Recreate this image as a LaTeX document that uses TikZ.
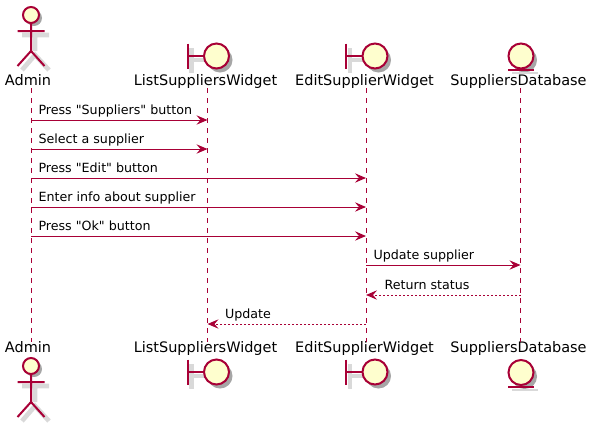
\documentclass[tikz,border=0pt]{standalone}
\usepackage{fontspec}
\newfontfamily\umlfont{DejaVu Sans}
\usetikzlibrary{arrows.meta}
\definecolor{uml_line}{HTML}{A80036}
\definecolor{uml_fill}{HTML}{FEFECE}
\tikzset{
  figure/.style={draw=uml_line, line width=1.5pt},
  softshade/.style={draw=black!15, line width=3.5pt},
  partname/.style={font=\umlfont\fontsize{10.85}{12}\selectfont, anchor=base, inner sep=0pt, text height=8pt, text depth=2.25pt},
  lifeline/.style={draw=uml_line, line width=0.75pt, dash pattern=on 3.75pt off 3.75pt},
  msg/.style={draw=uml_line, line width=0.75pt, -{Stealth[length=8.25pt, width=7pt, inset=3pt, uml_line]}},
  reply/.style={msg, dash pattern=on 1.5pt off 1.5pt},
  msgtext/.style={font=\umlfont\fontsize{9.5}{12}\selectfont, anchor=base west, inner sep=0pt, yshift=4.1pt, xshift=5.25pt}
}
% #1 = x of the lifeline, #2 = y of the head centre
\newcommand{\drawactor}[2]{
  \draw[softshade] (#1+4,#2+20) -- (#1+4,#2+36) (#1-9,#2+20) -- (#1+18,#2+20) (#1-9,#2+55) -- (#1+4,#2+40) -- (#1+18,#2+55);
  \fill[black!35] (#1+3,#2+3) circle (8);
  \draw[figure] (#1,#2+8) -- (#1,#2+36) (#1-13.5,#2+16) -- (#1+13.5,#2+16) (#1-13.5,#2+51) -- (#1,#2+36) -- (#1+13.5,#2+51);
  \draw[figure, fill=uml_fill] (#1,#2) circle (8);
}
% #1 = x of the bar, #2 = y of the circle centre
\newcommand{\drawboundary}[2]{
  \draw[softshade] (#1+4,#2-8) -- (#1+4,#2+17) (#1+4,#2+4) -- (#1+18,#2+4);
  \fill[black!35] (#1+32.5,#2+4) circle (12.5);
  \draw[figure] (#1,#2-12.5) -- (#1,#2+12.5) (#1,#2) -- (#1+16,#2);
  \draw[figure, fill=uml_fill] (#1+29,#2) circle (12.5);
}
% #1 = x of the circle centre, #2 = y of the circle centre
\newcommand{\drawentity}[2]{
  \fill[black!35] (#1+3.5,#2+4) circle (12.5);
  \draw[softshade, line width=1.5pt] (#1-9,#2+17) -- (#1+17,#2+17);
  \draw[figure, fill=uml_fill] (#1,#2) circle (12.5);
  \draw[figure] (#1-13,#2+14) -- (#1+13,#2+14);
}

\begin{document}
\begin{tikzpicture}[x=0.75pt, y=-0.75pt]
  \useasboundingbox (0,0) rectangle (591,422);

  % Figures at the top and at the bottom
  \drawactor{31}{15}
  \drawboundary{187.5}{56}
  \drawboundary{346}{56}
  \drawentity{521}{56}
  \drawactor{31}{366}
  \drawboundary{187.5}{372}
  \drawboundary{346}{372}
  \drawentity{521}{372.5}

  % Names of the participants
  \node[partname] (admintop) at (28,85) {Admin};
  \node[partname] (listtop) at (205.5,85) {ListSuppliersWidget};
  \node[partname] (edittop) at (364.5,85) {EditSupplierWidget};
  \node[partname] (dbtop) at (518.5,85) {SuppliersDatabase};
  \node[partname] (adminbot) at (28,352.5) {Admin};
  \node[partname] (listbot) at (205.5,352.5) {ListSuppliersWidget};
  \node[partname] (editbot) at (364.5,352.5) {EditSupplierWidget};
  \node[partname] (dbbot) at (518.5,352.5) {SuppliersDatabase};

  % Lifelines
  \coordinate (adminup) at (31,88);
  \coordinate (admindown) at (31,342);
  \coordinate (listup) at (207.5,88);
  \coordinate (listdown) at (207.5,342);
  \coordinate (editup) at (366,88);
  \coordinate (editdown) at (366,342);
  \coordinate (dbup) at (520.5,88);
  \coordinate (dbdown) at (520.5,342);
  \draw[lifeline] (adminup) -- (admindown);
  \draw[lifeline] (listup) -- (listdown);
  \draw[lifeline] (editup) -- (editdown);
  \draw[lifeline] (dbup) -- (dbdown);

  % One coordinate per lifeline and message row
  \foreach \row/\ypos in {1/120, 2/149, 3/178, 4/207, 5/236, 6/265, 7/295, 8/324} {
    \coordinate (admin\row) at (31,\ypos);
    \coordinate (list\row) at (207.5,\ypos);
    \coordinate (edit\row) at (366,\ypos);
    \coordinate (db\row) at (520.5,\ypos);
  }

  % Messages
  \draw[msg] (admin1) -- (list1) node[msgtext, pos=0] (press) {Press "Suppliers" button};
  \draw[msg] (admin2) -- (list2) node[msgtext, pos=0] (select) {Select a supplier};
  \draw[msg] (admin3) -- (edit3) node[msgtext, pos=0] (edit) {Press "Edit" button};
  \draw[msg] (admin4) -- (edit4) node[msgtext, pos=0] (enter) {Enter info about supplier};
  \draw[msg] (admin5) -- (edit5) node[msgtext, pos=0] (ok) {Press "Ok" button};
  \draw[msg] (edit6) -- (db6) node[msgtext, pos=0] (update) {Update supplier};

  % Replies
  \draw[reply] (db7) -- (edit7) node[msgtext, pos=1, xshift=8.25pt] (status) {Return status};
  \draw[reply] (edit8) -- (list8) node[msgtext, pos=1, xshift=7.5pt] (refresh) {Update};

\end{tikzpicture}
\end{document}
